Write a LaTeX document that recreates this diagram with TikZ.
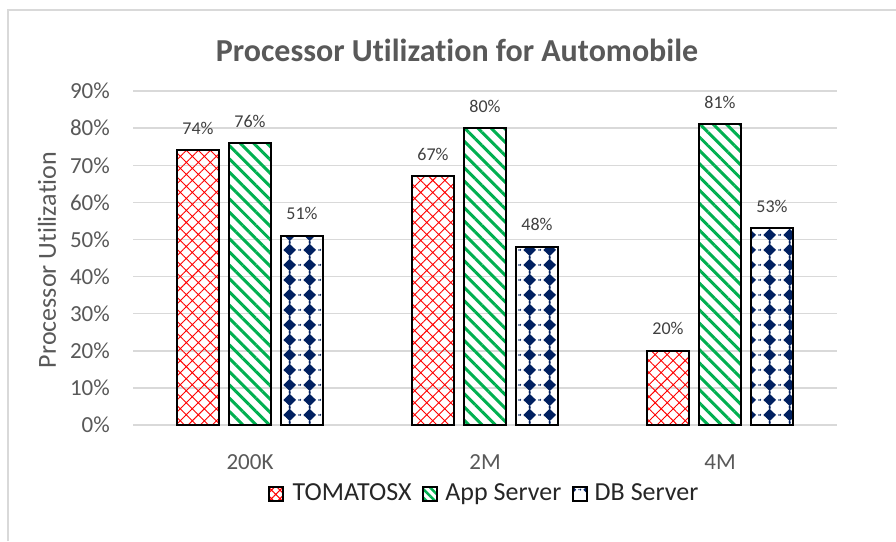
\documentclass[tikz,border=0pt]{standalone}
\usepackage{fontspec}
\setmainfont{Carlito}[Ligatures=NoCommon]
\usetikzlibrary{patterns.meta,positioning}

\definecolor{gridgray}{HTML}{D9D9D9}
\definecolor{labelgray}{HTML}{595959}
\definecolor{datagray}{HTML}{404040}
\definecolor{leggray}{HTML}{262626}
\definecolor{tomred}{HTML}{FF0000}
\definecolor{appgreen}{HTML}{00B050}
\definecolor{dbnavy}{HTML}{002060}

% navy "stars" used for the DB Server bars
\tikzdeclarepattern{
  name=navystars,
  type=colored,
  bottom left={(0pt,0pt)},
  top right={(20pt,15pt)},
  tile size={(20pt,15pt)},
  code={
    \fill[dbnavy] (10pt,7.5pt) circle (4.3pt);
    \fill[dbnavy] (10pt,1pt) -- (16.5pt,7.5pt) -- (10pt,14pt) -- (3.5pt,7.5pt) -- cycle;
    \fill[dbnavy] (0pt,7.5pt) circle (1.3pt);
    \fill[dbnavy] (20pt,7.5pt) circle (1.3pt);
    \fill[dbnavy] (10pt,0pt) circle (1.3pt);
    \fill[dbnavy] (10pt,15pt) circle (1.3pt);
  }
}

\newcommand{\ys}{3.71}

\tikzset{
  bar/.style={draw=black, line width=2pt},
  tombar/.style={bar, pattern={Hatch[angle=45, distance=8.5pt, line width=0.9pt]}, pattern color=tomred},
  appbar/.style={bar, pattern={Lines[angle=-45, distance=9.4pt, line width=3pt]}, pattern color=appgreen},
  dbbar/.style={bar, pattern=navystars},
  datalabel/.style={text=datagray, font=\fontsize{18}{21}\selectfont, inner sep=0pt},
  ticklabel/.style={text=labelgray, font=\fontsize{23}{26}\selectfont, inner sep=0pt},
  legbox/.style={draw=black, line width=2pt, minimum size=14pt, inner sep=0pt},
  legtext/.style={text=leggray, font=\fontsize{26}{30}\selectfont, inner sep=0pt, text height=17pt, text depth=4pt}
}

\begin{document}
\begin{tikzpicture}[x=1pt, y=1pt]
  \useasboundingbox (-133,-116) rectangle (763,425);
  \fill[white] (-133,-116) rectangle (763,425);
  % chart frame
  \draw[gridgray, line width=2pt] (-125,-116) -- (-125,415) -- (763,415);

  % title
  \node[text=labelgray, font=\bfseries\fontsize{32}{36}\selectfont] (title) at (324,375) {Processor Utilization for Automobile};

  % grid and y labels
  \draw[gridgray, line width=1.5pt] (0,0) -- (704,0);
  \node[ticklabel, anchor=east] (tick0) at (-23,0) {0\%};
  \foreach \p in {1,...,9} {
    \draw[gridgray, line width=1.5pt] (0,\p*10*\ys) -- (704,\p*10*\ys);
    \node[ticklabel, anchor=east] (tick\p) at (-23,\p*10*\ys) {\p0\%};
  }

  \node[text=labelgray, font=\fontsize{26}{30}\selectfont, rotate=90] (ytitle) at (-86,165) {Processor Utilization};

  % 200K
  \draw[tombar] (44,0) rectangle (86,74*\ys);
  \draw[appbar] (96,0) rectangle (138,76*\ys);
  \draw[dbbar] (148,0) rectangle (190,51*\ys);
  \node[datalabel] (t200k) at (65,74*\ys+22) {74\%};
  \node[datalabel] (a200k) at (117,76*\ys+22) {76\%};
  \node[datalabel] (d200k) at (169,51*\ys+22) {51\%};

  % 2M
  \draw[tombar] (279,0) rectangle (321,67*\ys);
  \draw[appbar] (331,0) rectangle (373,80*\ys);
  \draw[dbbar] (383,0) rectangle (425,48*\ys);
  \node[datalabel] (t2m) at (300,67*\ys+22) {67\%};
  \node[datalabel] (a2m) at (352,80*\ys+22) {80\%};
  \node[datalabel] (d2m) at (404,48*\ys+22) {48\%};

  % 4M
  \draw[tombar] (514,0) rectangle (556,20*\ys);
  \draw[appbar] (566,0) rectangle (608,81*\ys);
  \draw[dbbar] (618,0) rectangle (660,53*\ys);
  \node[datalabel] (t4m) at (535,20*\ys+22) {20\%};
  \node[datalabel] (a4m) at (587,81*\ys+22) {81\%};
  \node[datalabel] (d4m) at (639,53*\ys+22) {53\%};

  % x labels
  \node[ticklabel] (c200k) at (117,-37) {200K};
  \node[ticklabel] (c2m) at (352,-37) {2M};
  \node[ticklabel] (c4m) at (587,-37) {4M};

  % legend
  \node[legbox, pattern={Hatch[angle=45, distance=6pt, line width=1pt]}, pattern color=tomred] (legtom) at (143,-69) {};
  \node[legtext, right=9pt of legtom] (legtomtext) {TOMATOSX};
  \node[legbox, pattern={Lines[angle=-45, distance=6pt, line width=2.5pt]}, pattern color=appgreen, right=10pt of legtomtext] (legapp) {};
  \node[legtext, right=7pt of legapp] (legapptext) {App Server};
  \node[legbox, pattern=navystars, right=10pt of legapptext] (legdb) {};
  \node[legtext, right=7pt of legdb] (legdbtext) {DB Server};
\end{tikzpicture}
\end{document}
